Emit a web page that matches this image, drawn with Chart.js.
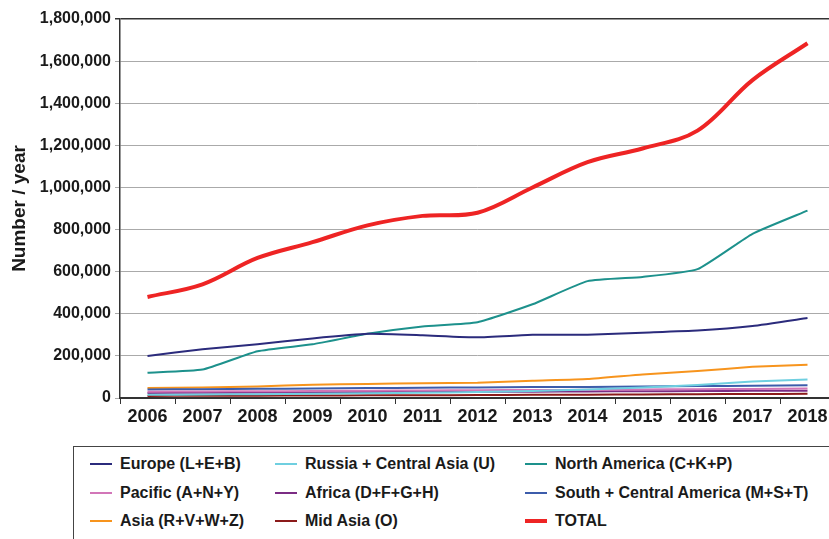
<!DOCTYPE html>
<html>
<head>
<meta charset="utf-8">
<script src="https://cdn.jsdelivr.net/npm/chart.js@4/dist/chart.umd.min.js"></script>
<style>
  html, body { margin: 0; padding: 0; background: #fff; overflow: hidden; width: 829px; height: 539px; }
  #wrap { position: absolute; left: 0; top: 0; width: 836px; height: 432px; }
  #legend {
    position: absolute; left: 73px; top: 446px; width: 800px; height: 120px;
    border: 1px solid #444; box-sizing: border-box;
    font-family: "Liberation Sans", Arial, sans-serif; font-weight: bold; font-size: 16px; color: #1a1a1a;
  }
  .item { position: absolute; height: 20px; line-height: 20px; white-space: nowrap; }
  .swatch { position: absolute; left: 0; top: 9px; width: 22px; }
  .item span { position: absolute; left: 30px; top: 0; }
</style>
</head>
<body>
<div id="wrap"><canvas id="chart"></canvas></div>
<div id="legend"></div>
<script>
// Data
const years = ["2006", "2007", "2008", "2009", "2010", "2011", "2012", "2013", "2014", "2015", "2016", "2017", "2018"];

const europe = [200000, 232000, 255000, 283000, 305000, 298000, 288000, 300000, 300000, 310000, 320000, 342000, 380000];
const russia = [15000, 17000, 18000, 20000, 22000, 25000, 28000, 33000, 40000, 50000, 62000, 78000, 88000];
const northAmerica = [120000, 135000, 222000, 255000, 305000, 340000, 360000, 445000, 555000, 575000, 612000, 780000, 890000];
const pacific = [30000, 31000, 32000, 33000, 35000, 36000, 37000, 38000, 39000, 40000, 42000, 43000, 45000];
const africa = [24000, 25000, 26000, 27000, 28000, 29000, 30000, 30000, 31000, 32000, 33000, 34000, 35000];
const southAmerica = [40000, 42000, 44000, 45000, 47000, 49000, 50000, 52000, 52000, 55000, 57000, 58000, 60000];
const asia = [47000, 50000, 55000, 63000, 67000, 70000, 72000, 82000, 90000, 112000, 128000, 148000, 158000];
const midAsia = [10000, 10500, 11000, 12000, 12500, 13000, 14000, 15000, 16000, 17000, 18000, 19000, 20000];
const total = [480000, 540000, 665000, 740000, 820000, 865000, 880000, 1000000, 1120000, 1185000, 1270000, 1510000, 1685000];

const seriesNames = [
  "Europe (L+E+B)", "Russia + Central Asia (U)", "North America (C+K+P)",
  "Pacific (A+N+Y)", "Africa (D+F+G+H)", "South + Central America (M+S+T)",
  "Asia (R+V+W+Z)", "Mid Asia (O)", "TOTAL"
];
const seriesData = [europe, russia, northAmerica, pacific, africa, southAmerica, asia, midAsia, total];
const seriesColors = ["#2b2b7c", "#6fcfe0", "#1d918c", "#d276b8", "#7b2c84", "#3c5cab", "#f7941d", "#8b1a1a", "#ee2424"];

const FONT = "'Liberation Sans', Arial, sans-serif";

const datasets = seriesNames.map((name, i) => ({
  label: name,
  data: seriesData[i],
  borderColor: seriesColors[i],
  backgroundColor: seriesColors[i],
  borderWidth: name === "TOTAL" ? 4 : 2,
  pointRadius: 0,
  tension: name === "TOTAL" ? 0.35 : 0.15,
  fill: false,
  order: name === "TOTAL" ? -1 : i,
}));

new Chart(document.getElementById("chart"), {
  type: "line",
  data: { labels: years, datasets },
  options: {
    responsive: true,
    maintainAspectRatio: false,
    animation: false,
    layout: { padding: { top: 19, right: 1, left: 0, bottom: 0 } },
    plugins: { legend: { display: false }, tooltip: { enabled: false } },
    scales: {
      x: {
        offset: true,
        afterFit: (scale) => { scale.height = 34; },
        grid: { drawOnChartArea: false, drawTicks: true, tickLength: 6, color: "#333", offset: true },
        border: { color: "#333", width: 2 },
        ticks: { color: "#1a1a1a", font: { family: FONT, size: 18, weight: "bold" }, padding: 2 },
      },
      y: {
        min: 0,
        max: 1800000,
        afterFit: (scale) => { scale.width = 120; },
        grid: {
          color: (ctx) => (ctx.tick && ctx.tick.value === 1800000 ? "#333" : "#aaa"),
          lineWidth: (ctx) => (ctx.tick && ctx.tick.value === 1800000 ? 1.5 : 1),
          tickLength: 5,
        },
        border: { color: "#333", width: 1.5 },
        ticks: {
          stepSize: 200000,
          color: "#1a1a1a",
          padding: 4,
          font: { family: FONT, size: 16, weight: "bold" },
          callback: (v) => v.toLocaleString("en-US"),
        },
        title: {
          display: true,
          text: "Number / year",
          color: "#1a1a1a",
          font: { family: FONT, size: 19, weight: "bold" },
          padding: { top: 8, bottom: 0 },
        },
      },
    },
  },
});

// Legend laid out in three columns, like the original box
const legend = document.getElementById("legend");
const colX = [16, 201, 451];
const rowY = [7, 36, 64];
seriesNames.forEach((name, i) => {
  const item = document.createElement("div");
  item.className = "item";
  item.style.left = colX[i % 3] + "px";
  item.style.top = rowY[Math.floor(i / 3)] + "px";
  const sw = document.createElement("div");
  sw.className = "swatch";
  const h = name === "TOTAL" ? 4 : 2;
  sw.style.height = h + "px";
  sw.style.top = (10 - h / 2) + "px";
  sw.style.background = seriesColors[i];
  const label = document.createElement("span");
  label.textContent = name;
  item.appendChild(sw);
  item.appendChild(label);
  legend.appendChild(item);
});
</script>
</body>
</html>
